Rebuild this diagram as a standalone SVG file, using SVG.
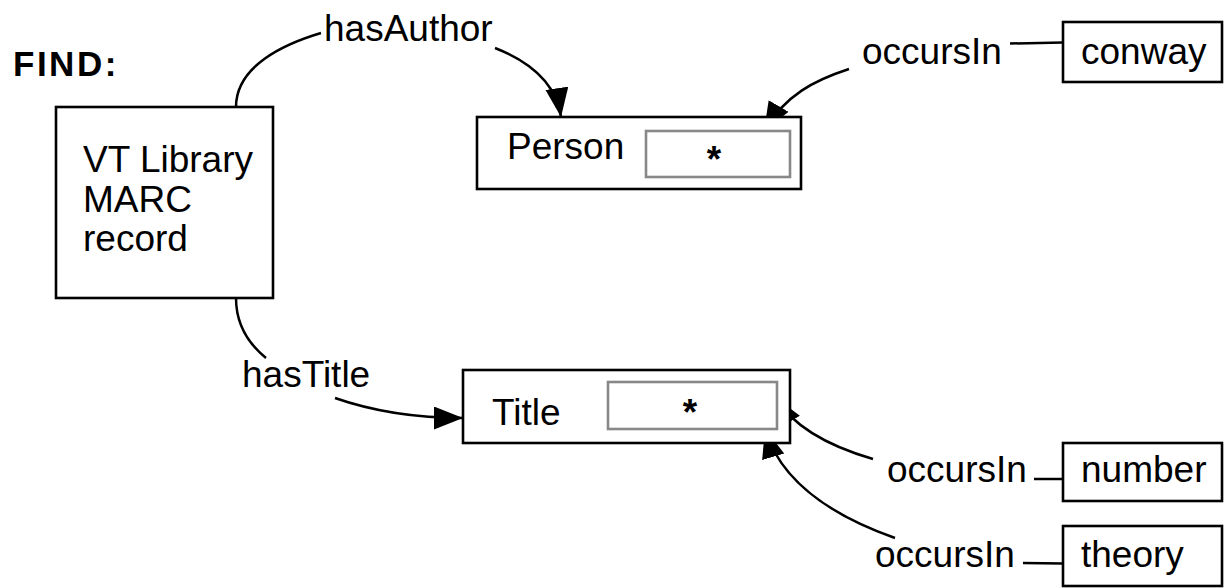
<svg xmlns="http://www.w3.org/2000/svg" width="1225" height="588" viewBox="0 0 1225 588">
<style>
text{font-family:"Liberation Sans",Arial,sans-serif;font-size:37px;fill:#000}
.find{font-weight:bold;font-size:35px;letter-spacing:2.5px}
.box{fill:#fff;stroke:#000;stroke-width:2.6}
.inner{fill:#fff;stroke:#888;stroke-width:2.6}
.edge{fill:none;stroke:#000;stroke-width:2.5}
.star{text-anchor:middle;font-weight:bold}
</style>
<defs>
<marker id="arr" markerUnits="userSpaceOnUse" markerWidth="30" markerHeight="24" refX="29" refY="11.5" orient="auto" viewBox="0 0 30 24">
<path d="M0,0 L29,11.5 L0,23 z" fill="#000"/>
</marker>
</defs>
<text class="find" x="13" y="76">FIND:</text>
<g id="connectors">
<path class="edge" d="M236,107 C236,66 284,44 321,33"/>
<path class="edge" d="M495,48 C528,61 556,82 561,117" marker-end="url(#arr)"/>
<path class="edge" d="M849,69 C815,80 785,95 764,131" marker-end="url(#arr)"/>
<path class="edge" d="M1010,43.5 L1063,42.5"/>
<path class="edge" d="M236,298 C236,325 250,345 266,358"/>
<path class="edge" d="M335,398 C375,412 420,418 463,418" marker-end="url(#arr)"/>
<path class="edge" d="M873,459 C835,448 795,430 775,397" marker-end="url(#arr)"/>
<path class="edge" d="M1034,479 L1063,479"/>
<path class="edge" d="M895,538 C830,515 780,480 765,429" marker-end="url(#arr)"/>
<path class="edge" d="M1023,563 L1063,563.5"/>
</g>
<g id="marc">
<rect class="box" x="56" y="107" width="217" height="191"/>
<text x="83" y="172">VT Library</text>
<text x="83" y="212">MARC</text>
<text x="83" y="251">record</text>
</g>
<g id="label-hasAuthor"><text x="324" y="41">hasAuthor</text></g>
<g id="person">
<rect class="box" x="477" y="117" width="324" height="72"/>
<text x="507" y="159">Person</text>
<rect class="inner" x="646" y="131" width="144" height="46"/>
<text class="star" x="714" y="172">*</text>
</g>
<g id="label-hasTitle"><text x="242" y="387">hasTitle</text></g>
<g id="title">
<rect class="box" x="463" y="370" width="327" height="73"/>
<text x="492" y="425">Title</text>
<rect class="inner" x="608" y="382" width="169" height="47"/>
<text class="star" x="690" y="425">*</text>
</g>
<g id="conway">
<text x="862" y="64">occursIn</text>
<rect class="box" x="1063" y="22" width="159" height="60"/>
<text x="1081" y="64">conway</text>
</g>
<g id="number">
<text x="887" y="482">occursIn</text>
<rect class="box" x="1063" y="443" width="159" height="58"/>
<text x="1081" y="482">number</text>
</g>
<g id="theory">
<text x="875" y="567">occursIn</text>
<rect class="box" x="1063" y="526" width="159" height="60"/>
<text x="1081" y="567">theory</text>
</g>
</svg>
